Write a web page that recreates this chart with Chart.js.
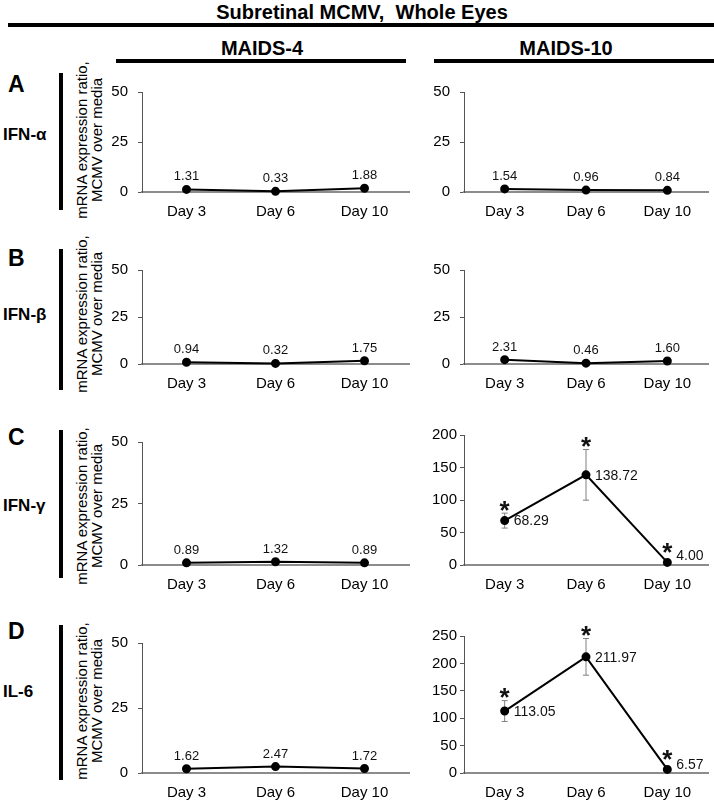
<!DOCTYPE html>
<html>
<head>
<meta charset="utf-8">
<script src="https://cdn.jsdelivr.net/npm/chart.js@4.4.1/dist/chart.umd.min.js"></script>
<style>
  body { margin: 0; background: #fff; }
  #lienzo { position: relative; width: 714px; height: 805px; overflow: hidden; font-family: "Liberation Sans", Arial, sans-serif; color: #000; }
  .txt { position: absolute; white-space: pre; }
  .neg { font-weight: bold; }
  .barra { position: absolute; background: #000; }
  canvas { position: absolute; }
  .ejeY { position: absolute; font-size: 15px; line-height: 15px; text-align: center; white-space: nowrap; transform: translate(-50%, -50%) rotate(-90deg); }
</style>
</head>
<body>
<div id="lienzo"></div>
<script>
// DATOS
const dias = ["Day 3", "Day 6", "Day 10"];

const m4IfnA = [1.31, 0.33, 1.88];
const m10IfnA = [1.54, 0.96, 0.84];
const m4IfnB = [0.94, 0.32, 1.75];
const m10IfnB = [2.31, 0.46, 1.60];
const m4IfnG = [0.89, 1.32, 0.89];
const m10IfnG = [68.29, 138.72, 4.00];
const m4Il6 = [1.62, 2.47, 1.72];
const m10Il6 = [113.05, 211.97, 6.57];

const errIfnG = [11.5, 39, 0];
const errIl6 = [19, 33.5, 0];
const signifIfnG = [true, true, true];
const signifIl6 = [true, true, true];

const ticksChico = [0, 25, 50];
const ticksIfnG = [0, 50, 100, 150, 200];
const ticksIl6 = [0, 50, 100, 150, 200, 250];

const titulo = "Subretinal MCMV,  Whole Eyes";
const grupos = ["MAIDS-4", "MAIDS-10"];
const letras = ["A", "B", "C", "D"];
const genes = ["IFN-α", "IFN-β", "IFN-γ", "IL-6"];
const ejeTitulo = ["mRNA expression ratio,", "MCMV over media"];

const fuente = '"Liberation Sans", Arial, sans-serif';
const lienzo = document.getElementById("lienzo");

function texto(t, x, y, size, bold, ancla) {
    const d = document.createElement("div");
    d.className = "txt" + (bold ? " neg" : "");
    d.textContent = t;
    d.style.fontSize = size + "px";
    d.style.left = x + "px";
    d.style.top = y + "px";
    d.style.transform = ancla === "centro" ? "translate(-50%, -50%)" : "translate(0, -50%)";
    lienzo.appendChild(d);
}

function barra(x, y, w, h) {
    const d = document.createElement("div");
    d.className = "barra";
    d.style.left = x + "px";
    d.style.top = y + "px";
    d.style.width = w + "px";
    d.style.height = h + "px";
    lienzo.appendChild(d);
}

//ENCABEZADOS
texto(titulo, 362, 12, 20, true, "centro");
barra(8, 23, 706, 4);
texto(grupos[0], 262, 48, 20, true, "centro");
texto(grupos[1], 566, 48, 20, true, "centro");
barra(116, 59, 290, 4);
barra(434, 59, 280, 4);

// filas: limites del area de trazado (arriba, abajo)
const filas = [
    { arriba: 85, abajo: 192, letraY: 84, genY: 135, barraY: [73, 210], ejeY: 140 },
    { arriba: 263, abajo: 364, letraY: 258, genY: 315, barraY: [249, 390], ejeY: 314 },
    { arriba: 435, abajo: 565, letraY: 437, genY: 506, barraY: [430, 578], ejeY: 506 },
    { arriba: 636, abajo: 773, letraY: 631, genY: 692, barraY: [625, 780], ejeY: 701 }
];

filas.forEach((f, i) => {
    texto(letras[i], 8, f.letraY, 23, true, "izq");
    texto(genes[i], 3, f.genY, 17, true, "izq");
    barra(59, f.barraY[0], 4, f.barraY[1] - f.barraY[0]);
    const e = document.createElement("div");
    e.className = "ejeY";
    e.innerHTML = ejeTitulo[0] + "<br>" + ejeTitulo[1];
    e.style.left = "89px";
    e.style.top = f.ejeY + "px";
    lienzo.appendChild(e);
});

// plugin: etiquetas de valor, barras de error y asteriscos
const anotaciones = {
    id: "anot",
    beforeDatasetsDraw(chart, args, opts) {
        if (!opts.errores) return;
        const ctx = chart.ctx;
        const escala = chart.scales.y;
        const valores = chart.data.datasets[0].data;
        ctx.save();
        ctx.strokeStyle = "#808080";
        ctx.lineWidth = 1;
        chart.getDatasetMeta(0).data.forEach((p, i) => {
            const e = opts.errores[i];
            if (!e) return;
            const y1 = escala.getPixelForValue(valores[i] + e);
            const y2 = escala.getPixelForValue(valores[i] - e);
            ctx.beginPath();
            ctx.moveTo(p.x, y1); ctx.lineTo(p.x, y2);
            ctx.moveTo(p.x - 3, y1); ctx.lineTo(p.x + 3, y1);
            ctx.moveTo(p.x - 3, y2); ctx.lineTo(p.x + 3, y2);
            ctx.stroke();
        });
        ctx.restore();
    },
    afterDatasetsDraw(chart, args, opts) {
        const ctx = chart.ctx;
        const escala = chart.scales.y;
        const valores = chart.data.datasets[0].data;
        ctx.save();
        ctx.fillStyle = "#111";
        chart.getDatasetMeta(0).data.forEach((p, i) => {
            const v = valores[i];
            if (opts.lado === "derecha") {
                ctx.font = "14px " + fuente;
                ctx.textAlign = "left";
                ctx.textBaseline = "middle";
                const dy = (opts.subir && opts.subir[i]) || 0;
                ctx.fillText(v.toFixed(2), p.x + 9, p.y + 1 - dy);
            } else {
                ctx.font = "13px " + fuente;
                ctx.textAlign = "center";
                ctx.textBaseline = "alphabetic";
                ctx.fillText(v.toFixed(2), p.x, p.y - 9);
            }
            if (opts.asteriscos && opts.asteriscos[i]) {
                const e = (opts.errores && opts.errores[i]) || 0;
                const tope = e ? escala.getPixelForValue(v + e) : p.y - 7;
                const yc = tope - 9;
                ctx.font = "bold 26px " + fuente;
                ctx.textAlign = "center";
                ctx.textBaseline = "alphabetic";
                ctx.fillText("*", p.x, yc + 0.57 * 26);
            }
        });
        ctx.restore();
    }
};

function crearGrafica(cfg) {
    const c = document.createElement("canvas");
    const alto = cfg.abajo - cfg.arriba + 12 + 30;
    c.width = cfg.ancho;
    c.height = alto;
    c.style.left = cfg.x + "px";
    c.style.top = (cfg.arriba - 12) + "px";
    c.style.width = cfg.ancho + "px";
    c.style.height = alto + "px";
    lienzo.appendChild(c);

    new Chart(c, {
        type: "line",
        data: {
            labels: dias,
            datasets: [{
                data: cfg.valores,
                borderColor: "#000",
                borderWidth: 2,
                backgroundColor: "#000",
                pointBackgroundColor: "#000",
                pointBorderColor: "#000",
                pointRadius: 3.5,
                tension: 0,
                clip: false
            }]
        },
        options: {
            responsive: false,
            animation: false,
            devicePixelRatio: 1,
            layout: { padding: { top: 12, right: cfg.derecha, bottom: 0, left: 0 } },
            plugins: {
                legend: { display: false },
                tooltip: { enabled: false },
                anot: {
                    lado: cfg.lado,
                    errores: cfg.errores,
                    asteriscos: cfg.asteriscos,
                    subir: cfg.subir
                }
            },
            scales: {
                x: {
                    offset: true,
                    grid: { display: false, drawTicks: false },
                    border: { display: true, color: "#8c8c8c", width: 2 },
                    ticks: { color: "#000", padding: 11, font: { size: 15, family: fuente } },
                    afterFit: (s) => { s.height = 30; }
                },
                y: {
                    min: 0,
                    max: cfg.ticks[cfg.ticks.length - 1],
                    afterBuildTicks: (s) => { s.ticks = cfg.ticks.map(v => ({ value: v })); },
                    grid: { display: true, drawOnChartArea: false, drawTicks: true, tickLength: 4, color: "#555" },
                    border: { display: true, color: "#555", width: 1 },
                    ticks: { color: "#000", padding: cfg.pad, font: { size: 15, family: fuente } },
                    afterFit: (s) => { s.width = cfg.ejeAncho; }
                }
            }
        },
        plugins: [anotaciones]
    });
}

const izquierda = { x: 95, ancho: 325, derecha: 11, ejeAncho: 47, pad: 10 };
const derecha = { x: 415, ancho: 299, derecha: 5.5, ejeAncho: 49, pad: 10 };

const paneles = [
    [m4IfnA, m10IfnA, ticksChico, null, null, null],
    [m4IfnB, m10IfnB, ticksChico, null, null, null],
    [m4IfnG, m10IfnG, ticksIfnG, errIfnG, signifIfnG, [0, 0, 7]],
    [m4Il6, m10Il6, ticksIl6, errIl6, signifIl6, [0, 0, 5]]
];

paneles.forEach((p, i) => {
    const f = filas[i];
    crearGrafica(Object.assign({}, izquierda, {
        arriba: f.arriba, abajo: f.abajo, valores: p[0], ticks: ticksChico, lado: "arriba"
    }));
    const grande = p[3] !== null;
    crearGrafica(Object.assign({}, derecha, {
        arriba: f.arriba, abajo: f.abajo, valores: p[1], ticks: p[2],
        lado: grande ? "derecha" : "arriba",
        errores: p[3], asteriscos: p[4], subir: p[5],
        pad: grande ? 3 : 10
    }));
});
</script>
</body>
</html>
